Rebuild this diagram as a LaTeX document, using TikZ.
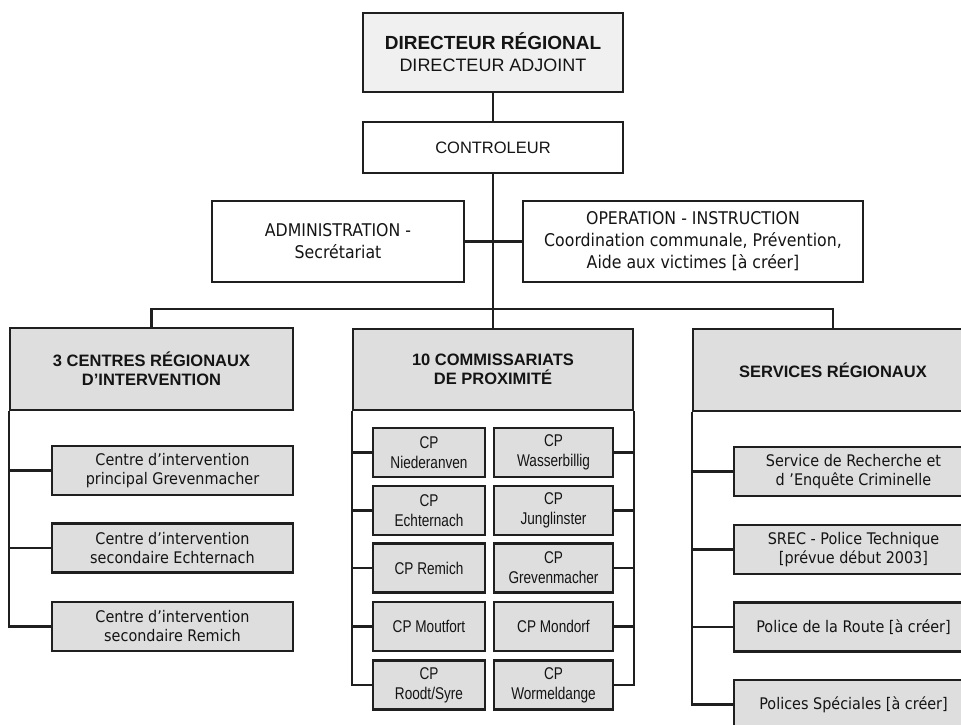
\documentclass[tikz,border=0pt]{standalone}
\usepackage{fontspec}
\setmainfont{Liberation Sans}
\newfontfamily\fv[FakeStretch=0.9]{DejaVu Sans}
\newfontfamily\fn[FakeStretch=0.8]{Liberation Sans}
\begin{document}
\begin{tikzpicture}[x=1pt,y=-1pt,
  bx/.style={draw=black!88, line width=2.3pt, inner sep=0pt, align=center, text=black!92},
  gfill/.style={fill=black!13},
  ln/.style={draw=black!88, line width=2.3pt},
  hdr/.style={bx, gfill, minimum width=281, minimum height=81, font=\bfseries\fontsize{16.5}{19}\selectfont},
  lsub/.style={bx, gfill, minimum width=241, minimum height=49, font=\fv\fontsize{16}{19}\selectfont},
  cpl/.style={bx, gfill, minimum width=112, minimum height=49, font=\fn\fontsize{17}{20}\selectfont},
  cpr/.style={bx, gfill, minimum width=119, minimum height=49, font=\fn\fontsize{17}{20}\selectfont},
  rsub/.style={bx, gfill, minimum width=239, minimum height=49, font=\fv\fontsize{16}{19}\selectfont},
  wbox/.style={bx, fill=white, font=\fv\fontsize{17.5}{22}\selectfont}
]
\useasboundingbox (0,0) rectangle (961,724);
\clip (0,0) rectangle (961,724);
\fill[white] (0,0) rectangle (961,724);

% top levels
\node[bx, fill=black!6, minimum width=260, minimum height=79, font=\fontsize{18}{22}\selectfont] (dir) at (493,52.5)
  {{\bfseries\fontsize{19}{22}\selectfont DIRECTEUR RÉGIONAL}\\DIRECTEUR ADJOINT};
\node[bx, fill=white, minimum width=260, minimum height=51, font=\fontsize{16.5}{20}\selectfont] (ctrl) at (493,147.5) {CONTROLEUR};
\node[wbox, minimum width=252, minimum height=81] (admin) at (338,241.5) {ADMINISTRATION -\\Secrétariat};
\node[wbox, minimum width=340, minimum height=81] (oper) at (693,241.5)
  {OPERATION - INSTRUCTION\\Coordination communale, Prévention,\\Aide aux victimes [à créer]};

% three branches
\node[hdr, minimum width=283, minimum height=82] (L) at (151.5,369) {3 CENTRES RÉGIONAUX\\D’INTERVENTION};
\node[hdr, minimum width=280] (M) at (493,369.5) {10 COMMISSARIATS\\DE PROXIMITÉ};
\node[hdr, minimum width=280, minimum height=82] (R) at (833,370) {SERVICES RÉGIONAUX};

% left subs
\node[lsub] (ls1) at (172.5,470.5) {Centre d’intervention\\principal Grevenmacher};
\node[lsub] (ls2) at (172.5,548) {Centre d’intervention\\secondaire Echternach};
\node[lsub] (ls3) at (172.5,626.5) {Centre d’intervention\\secondaire Remich};

% CP boxes
\node[cpl] (cl1) at (429,452.5) {CP\\Niederanven};
\node[cpl] (cl2) at (429,510.5) {CP\\Echternach};
\node[cpl] (cl3) at (429,568) {CP Remich};
\node[cpl] (cl4) at (429,626.5) {CP Moutfort};
\node[cpl] (cl5) at (429,685) {CP\\Roodt/Syre};
\node[cpr] (cr1) at (553.5,452.5) {CP\\Wasserbillig};
\node[cpr] (cr2) at (553.5,510.5) {CP\\Junglinster};
\node[cpr] (cr3) at (553.5,568) {CP\\Grevenmacher};
\node[cpr] (cr4) at (553.5,626.5) {CP Mondorf};
\node[cpr] (cr5) at (553.5,685) {CP\\Wormeldange};

% right subs
\node[rsub] (rs1) at (853.5,471.5) {Service de Recherche et\\d ’Enquête Criminelle};
\node[rsub] (rs2) at (853.5,549.5) {SREC - Police Technique\\{}[prévue début 2003]};
\node[rsub] (rs3) at (853.5,627) {Police de la Route [à créer]};
\node[rsub] (rs4) at (853.5,704.5) {Polices Spéciales [à créer]};

% connectors
\coordinate (hub) at (493,309);
\draw[ln] (dir) -- (ctrl);
\draw[ln] (ctrl.south) -- (M.north);
\draw[ln] (admin.east) -- (oper.west);
\draw[ln] (L.north) |- (hub) -| (R.north);
\foreach \n in {ls1,ls2,ls3} \draw[ln] (L.south west) |- (\n.west);
\foreach \n in {cl1,cl2,cl3,cl4,cl5} \draw[ln] (M.south west) |- (\n.west);
\foreach \n in {cr1,cr2,cr3,cr4,cr5} \draw[ln] (M.south east) |- (\n.east);
\foreach \n in {rs1,rs2,rs3,rs4} \draw[ln] (R.south west) |- (\n.west);
\end{tikzpicture}
\end{document}
